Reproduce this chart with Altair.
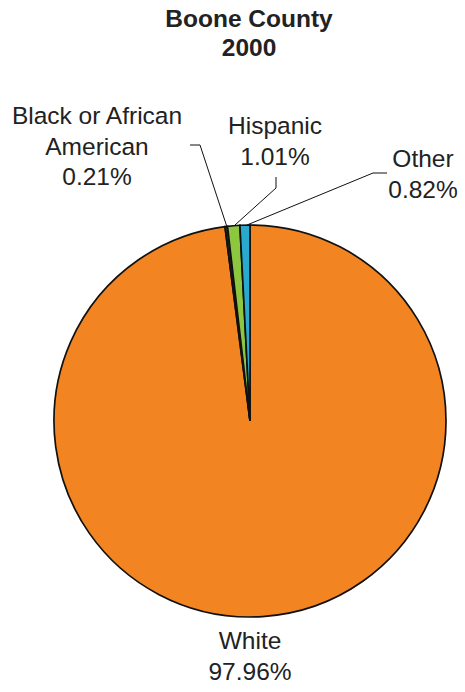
import altair as alt
import pandas as pd

# ---- data ----
categories = ["White", "Black or African American", "Hispanic", "Other"]
percent = [97.96, 0.21, 1.01, 0.82]
label_text = ["White\n97.96%", "Black or African\nAmerican\n0.21%", "Hispanic\n1.01%", "Other\n0.82%"]
colors = ["#F28522", "#2B2B2B", "#8DC63F", "#2AA9CF"]

W, H = 465, 692
CX, CY, R = 250, 421, 196
FONT = "Liberation Sans"

df = pd.DataFrame({"category": categories, "percent": percent, "order": list(range(len(categories)))})

pie = alt.Chart(df).mark_arc(x=CX, y=CY, outerRadius=R, stroke="#111111", strokeWidth=1.7).encode(
    theta=alt.Theta("percent:Q", stack=True),
    color=alt.Color("category:N", scale=alt.Scale(domain=categories, range=colors), legend=None),
    order=alt.Order("order:Q"),
)

# label annotation placement (pixel positions of first baseline)
lab = pd.DataFrame({
    "text": label_text,
    "px": [250, 97, 275, 423],
    "py": [649, 124, 134, 167],
})
labels = alt.Chart(lab).mark_text(
    font=FONT, fontSize=24.5, color="#222222", align="center", baseline="alphabetic",
    lineBreak="\n", lineHeight=30.5,
).encode(
    x=alt.X("px:Q", scale=None, axis=None),
    y=alt.Y("py:Q", scale=None, axis=None),
    text="text:N",
)

# leader lines
lead = pd.DataFrame({
    "seg": ["b", "b", "b", "h", "h", "h", "o", "o", "o"],
    "i": [0, 1, 2, 0, 1, 2, 0, 1, 2],
    "lx": [190, 200, 227, 276, 276, 235, 387, 373, 247],
    "ly": [145, 145, 227, 177, 188, 225, 173, 173, 225],
})
leaders = alt.Chart(lead).mark_line(color="#111111", strokeWidth=1).encode(
    x=alt.X("lx:Q", scale=None, axis=None),
    y=alt.Y("ly:Q", scale=None, axis=None),
    detail="seg:N",
    order="i:Q",
)

title = alt.Chart(pd.DataFrame({"t": ["Boone County\n2000"], "px": [249], "py": [27]})).mark_text(
    font=FONT, fontSize=24.5, fontWeight="bold", color="#222222", align="center",
    baseline="alphabetic", lineBreak="\n", lineHeight=29,
).encode(
    x=alt.X("px:Q", scale=None, axis=None),
    y=alt.Y("py:Q", scale=None, axis=None),
    text="t:N",
)

chart = alt.layer(pie, leaders, labels, title).properties(
    width=W, height=H, autosize=alt.AutoSizeParams(type="none"), padding=0,
    background="white",
).configure_view(stroke=None)

chart.save("out.html", embed_options={"renderer": "svg", "actions": False})
